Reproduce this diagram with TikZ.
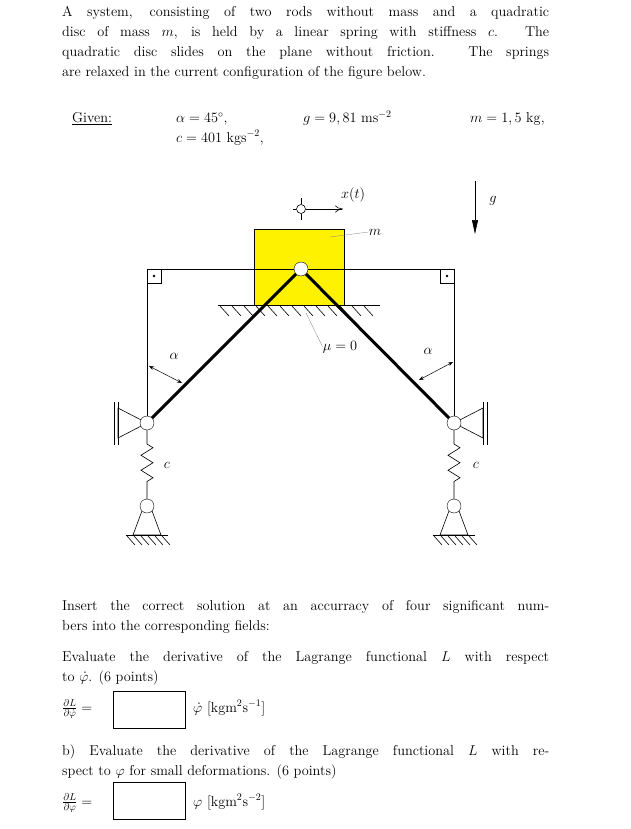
\RequirePackage{fix-cm}
\documentclass[tikz,border=0pt]{standalone}
\usetikzlibrary{arrows.meta,decorations.pathmorphing}
\begin{document}
\begin{tikzpicture}[x=1pt,y=-1pt,
  txt/.style={anchor=base west,inner sep=0pt,font=\fontsize{14.3}{20}\selectfont},
  lab/.style={inner sep=0pt,font=\fontsize{14.3}{20}\selectfont},
  pin/.style={circle,draw,fill=white,minimum size=14pt,inner sep=0pt},
  rod/.style={line width=3pt},
  thin/.style={line width=0.6pt},
  hatch/.style={line width=0.6pt},
  spr/.style={thin,decorate,decoration={zigzag,segment length=15pt,amplitude=6pt,pre length=14pt,post length=14pt}},
  ansbox/.style={draw,line width=0.8pt,minimum width=72pt,minimum height=37pt,inner sep=0pt}]
\useasboundingbox (0,0) rectangle (631,829);
% text
\def\W{487pt}
\node[txt] (t1) at (62,17) {\makebox[\W][s]{A system, consisting of two rods without mass and a quadratic}};
\node[txt] (t2) at (62,37) {\makebox[\W][s]{disc of mass $m$, is held by a linear spring with stiffness $c$. The}};
\node[txt] (t3) at (62,57) {\makebox[\W][s]{quadratic disc slides on the plane without friction. The springs}};
\node[txt] (t4) at (62,77) {are relaxed in the current configuration of the figure below.};
\node[txt] (gv) at (72,123) {\underline{Given:}};
\node[txt] (ga) at (176,123) {$\alpha=45^\circ$,};
\node[txt] (gg) at (303,123) {$g=9,81~\mathrm{ms}^{-2}$};
\node[txt] (gm) at (470,123) {$m=1,5~\mathrm{kg}$,};
\node[txt] (gc) at (176,143) {$c=401~\mathrm{kgs}^{-2}$,};
\node[txt] (i1) at (62,610) {\makebox[\W][s]{Insert the correct solution at an accurracy of four significant num-}};
\node[txt] (i2) at (62,630) {bers into the corresponding fields:};
\node[txt] (e1) at (62,661) {\makebox[\W][s]{Evaluate the derivative of the Lagrange functional $L$ with respect}};
\node[txt] (e2) at (62,681) {to $\dot\varphi$. (6 points)};
\node[txt] (f1) at (62,712) {$\frac{\partial L}{\partial\dot\varphi}=$};
\node[ansbox] (b1) at (149,710) {};
\node[txt] (u1) at (193,712) {$\dot\varphi$ [kgm$^2$s$^{-1}$]};
\node[txt] (h1) at (62,755) {\makebox[\W][s]{b) Evaluate the derivative of the Lagrange functional $L$ with re-}};
\node[txt] (h2) at (62,775) {spect to $\varphi$ for small deformations. (6 points)};
\node[txt] (f2) at (62,806) {$\frac{\partial L}{\partial\varphi}=$};
\node[ansbox] (b2) at (149,801) {};
\node[txt] (u2) at (193,806) {$\varphi$ [kgm$^2$s$^{-2}$]};
% mass block
\node[draw,thin,fill=yellow,minimum width=90pt,minimum height=76pt,inner sep=0pt] (blk) at (299,267) {};
% ground under block
\draw[thin] (218,305) -- (380,305);
\foreach \x in {220,232,...,370} \draw[hatch] (\x,306) -- (\x+9,316);
% frame
\coordinate (fl) at (147,269); \coordinate (fr) at (454,269);
\draw[thin] (147,423) -- (fl) -- (fr) -- (454,423);
\draw[thin] (147,269) rectangle (161,283); \fill (154,276) circle (1.3pt);
\draw[thin] (440,269) rectangle (454,283); \fill (447,276) circle (1.3pt);
% rods
\coordinate (T) at (301,269); \coordinate (L) at (147,423); \coordinate (R) at (454,423);
\draw[rod] (L) -- (T) -- (R);
% sliders
\draw[thin] (L) -- (118,408) -- (118,438) -- cycle;
\draw[thin] (114,402) -- (114,445) (118,402) -- (118,445);
\draw[thin] (R) -- (483,408) -- (483,438) -- cycle;
\draw[thin] (483,402) -- (483,445) (487,402) -- (487,445);
% springs and bottom supports
\foreach \xx/\nm in {147/sl,454/sr}{
  \node[pin] (\nm) at (\xx,506) {};
  \draw[spr] (\xx,430) -- (\nm.north);
  \draw[thin] (\nm.south west) -- (\xx-14,535) -- (\xx+14,535) -- (\nm.south east);
  \draw[thin] (\xx-21,535) -- (\xx+21,535);
  \foreach \d in {-20,-13,...,15} \draw[hatch] (\xx+\d,536) -- (\xx+\d+8,545);
}
\node[pin] (pl) at (L) {};
\node[pin] (pr) at (R) {};
\node[pin] (pt) at (T) {};
\node[lab] (cl) at (167,465) {$c$};
\node[lab] (cr) at (476,465) {$c$};
% angle arrows
\coordinate (a1s) at (149,366); \coordinate (a1e) at (182,383);
\draw[line width=0.5pt,{Stealth[length=5pt]}-{Stealth[length=5pt]}] (a1s) -- (a1e);
\node[lab] (al) at (174,356) {$\alpha$};
\coordinate (a2s) at (453,362); \coordinate (a2e) at (419,380);
\draw[line width=0.5pt,{Stealth[length=5pt]}-{Stealth[length=5pt]}] (a2s) -- (a2e);
\node[lab] (ar) at (428,351) {$\alpha$};
% mu
\node[lab] (mu) at (340,347) {$\mu=0$};
\draw[line width=0.3pt,gray] (306,313) -- (mu.west);
% m label
\node[lab] (ml) at (375,232) {$m$};
\draw[line width=0.3pt,gray] (330,237) -- (ml.west);
% x(t)
\node[circle,draw,thin,fill=white,minimum size=9pt,inner sep=0pt] (xc) at (301,209) {};
\draw[thin] (301,198) -- (xc.north) (xc.south) -- (301,220) (293,209) -- (xc.west);
\coordinate (xe) at (343,209);
\draw[thin,-{To[length=8pt,width=7pt]}] (xc.east) -- (xe);
\node[lab,anchor=west] (xt) at (341,195) {$x(t)$};
% g
\coordinate (g1) at (475,181); \coordinate (g2) at (475,234);
\draw[thin,-{Triangle[length=14pt,width=6pt]}] (g1) -- (g2);
\node[lab] (gl) at (493,201) {$g$};
\end{tikzpicture}
\end{document}
